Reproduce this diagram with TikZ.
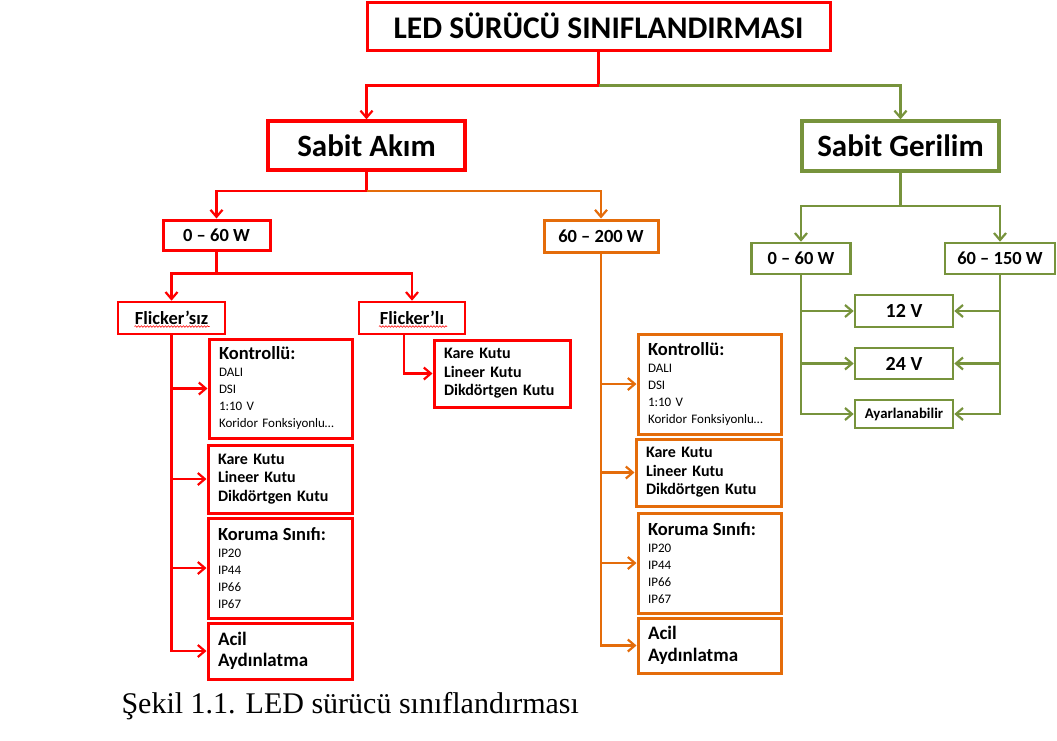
\documentclass[tikz,border=0pt]{standalone}
\usepackage{fontspec}
\setmainfont{Carlito}
\newfontfamily\captionserif{Liberation Serif}
\usetikzlibrary{arrows.meta,positioning,decorations.pathmorphing}
\definecolor{ledred}{RGB}{255,0,0}
\definecolor{ledorange}{RGB}{228,108,10}
\definecolor{ledgreen}{RGB}{119,147,60}
\newcommand{\kontroltext}{{\fontsize{18.5}{17}\selectfont\bfseries Kontrollü:}\\DALI\\DSI\\1:10 V\\Koridor Fonksiyonlu…}
\newcommand{\kututext}{Kare Kutu\\Lineer Kutu\\Dikdörtgen Kutu}
\newcommand{\korumatext}{{\fontsize{18.5}{17}\selectfont\bfseries Koruma Sınıfı:}\\IP20\\IP44\\IP66\\IP67}
\newcommand{\aciltext}{Acil\\Aydınlatma}
\tikzset{
    box/.style={
        rectangle,
        draw,
        line width=3pt,
        inner sep=0pt,
        font=\bfseries\fontsize{18.5}{20}\selectfont
    },
    redbox/.style={box, draw=ledred},
    orangebox/.style={box, draw=ledorange},
    greenbox/.style={box, draw=ledgreen, line width=2.6pt},
    listbox/.style={
        rectangle,
        draw,
        line width=3pt,
        inner xsep=10pt,
        inner ysep=0pt,
        align=left,
        font=\fontsize{13}{17}\selectfont
    },
    kutubox/.style={
        listbox,
        font=\bfseries\fontsize{16}{18.5}\selectfont
    },
    acilbox/.style={
        listbox,
        font=\bfseries\fontsize{19}{21.5}\selectfont
    },
    redline/.style={->, draw=ledred, line width=2.2pt},
    orangeline/.style={->, draw=ledorange, line width=2.2pt},
    greenline/.style={->, draw=ledgreen, line width=2.2pt},
    spellmark/.style={
        draw=ledred,
        line width=0.6pt,
        decorate,
        decoration={snake, amplitude=0.8pt, segment length=3pt}
    }
}
\begin{document}
\begin{tikzpicture}[x=1pt,y=-1pt,>={Straight Barb[length=7pt,width=12pt]}]
    \useasboundingbox[fill=white] (0,0) rectangle (1057,740);
    % upper levels
    \node [redbox,minimum width=463pt,minimum height=48pt,font=\bfseries\fontsize{31.5}{33}\selectfont] (title) at (598.5,26) {LED SÜRÜCÜ SINIFLANDIRMASI};
    \node [redbox,line width=3.3pt,minimum width=197pt,minimum height=49pt,font=\bfseries\fontsize{31}{33}\selectfont] (akim) at (366.5,145.5) {Sabit Akım};
    \node [greenbox,line width=3.3pt,minimum width=197pt,minimum height=50pt,font=\bfseries\fontsize{31}{33}\selectfont] (gerilim) at (900.5,146) {Sabit Gerilim};
    \node [redbox,minimum width=107pt,minimum height=30pt] (w60) at (216.5,235) {0 – 60 W};
    \node [orangebox,minimum width=114pt,minimum height=32pt] (w200) at (601,236) {60 – 200 W};
    \node [greenbox,minimum width=99pt,minimum height=31pt] (g60) at (801,258.5) {0 – 60 W};
    \node [greenbox,minimum width=110pt,minimum height=31pt] (g150) at (1000,258.5) {60 – 150 W};
    \node [redbox,line width=2.6pt,minimum width=107pt,minimum height=32pt] (fsiz) at (171.5,318) {Flicker’sız};
    \node [redbox,line width=2.6pt,minimum width=106pt,minimum height=32pt] (fli) at (412,318) {Flicker’lı};
    % sabit akim, 0-60 W
    \node [listbox,draw=ledred,text width=123pt,minimum height=99pt] (kont1) at (280.5,388.5) {\kontroltext};
    \node [kutubox,draw=ledred,text width=124pt,minimum height=68pt] (kare1) at (280,479) {\kututext};
    \node [listbox,draw=ledred,text width=124pt,minimum height=100pt] (koru1) at (280,568) {\korumatext};
    \node [acilbox,draw=ledred,text width=124pt,minimum height=56pt] (acil1) at (280,651) {\aciltext};
    \node [kutubox,draw=ledred,text width=116pt,minimum height=67pt] (kare2) at (502,373.5) {\kututext};
    % sabit akim, 60-200 W
    \node [listbox,draw=ledorange,text width=123pt,minimum height=100pt] (kont2) at (709.5,384) {\kontroltext};
    \node [kutubox,draw=ledorange,text width=125pt,minimum height=67pt] (kare3) at (708.5,472.5) {\kututext};
    \node [listbox,draw=ledorange,text width=123pt,minimum height=100pt] (koru3) at (709.5,563) {\korumatext};
    \node [acilbox,draw=ledorange,text width=123pt,minimum height=55pt] (acil3) at (709.5,645.5) {\aciltext};
    % sabit gerilim
    \node [greenbox,minimum width=98pt,minimum height=32pt,font=\bfseries\fontsize{20}{22}\selectfont] (v12) at (904,311) {12 V};
    \node [greenbox,minimum width=98pt,minimum height=31pt,font=\bfseries\fontsize{20}{22}\selectfont] (v24) at (904,363.5) {24 V};
    \node [greenbox,minimum width=98pt,minimum height=28pt,font=\bfseries\fontsize{14.8}{16}\selectfont] (ayar) at (904,414) {Ayarlanabilir};
    \draw [spellmark] ([xshift=-37pt,yshift=-8.5pt]fsiz.center) -- ([xshift=38pt,yshift=-8.5pt]fsiz.center);
    \draw [spellmark] ([xshift=-33pt,yshift=-8.5pt]fli.center) -- ([xshift=35pt,yshift=-8.5pt]fli.center);
    % connectors
    \coordinate (tsplit) at ([yshift=-34pt]title.south);
    \draw [redline] (title.south) -- (tsplit) -| (akim.north);
    \draw [greenline] (tsplit) -| (gerilim.north);
    \coordinate (asplit) at ([yshift=-19pt]akim.south);
    \draw [redline] (akim.south) -- (asplit) -| (w60.north);
    \draw [orangeline] (asplit) -| (w200.north);
    \coordinate (gsplit) at ([yshift=-33pt]gerilim.south);
    \draw [greenline] (gerilim.south) -- (gsplit) -| (g60.north);
    \draw [greenline] (gsplit) -| (g150.north);
    \coordinate (wsplit) at ([yshift=-22pt]w60.south);
    \draw [redline] (w60.south) -- (wsplit) -| (fsiz.north);
    \draw [redline] (wsplit) -| (fli.north);
    \draw [redline] (fsiz.south) |- (acil1.west);
    \foreach \n in {kont1,kare1,koru1}
        \draw [redline] (fsiz.south |- \n.west) -- (\n.west);
    \coordinate (fdrop) at ([xshift=-8pt]fli.south);
    \draw [redline] (fdrop) |- (kare2.west);
    \draw [orangeline] (w200.south) |- (acil3.west);
    \foreach \n in {kont2,kare3,koru3}
        \draw [orangeline] (w200.south |- \n.west) -- (\n.west);
    \draw [greenline] (g60.south) |- (ayar.west);
    \draw [greenline] (g150.south) |- (ayar.east);
    \foreach \n in {v12,v24} {
        \draw [greenline] (g60.south |- \n.west) -- (\n.west);
        \draw [greenline] (g150.south |- \n.east) -- (\n.east);
    }
    \node [anchor=base west,font=\captionserif\fontsize{30}{34}\selectfont] (caption) at (118,713) {Şekil 1.1. LED sürücü sınıflandırması};
\end{tikzpicture}
\end{document}
